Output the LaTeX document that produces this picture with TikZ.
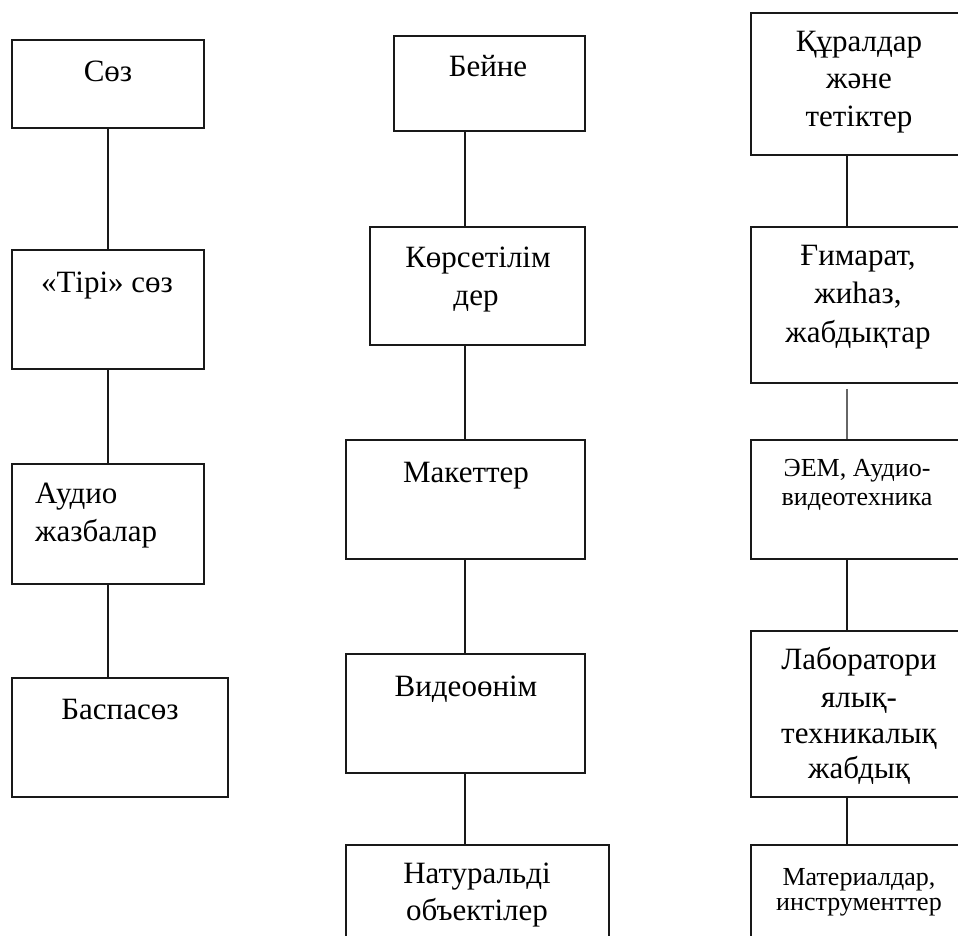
\documentclass[tikz,border=0pt]{standalone}
\usepackage{fontspec}
\setmainfont{Liberation Serif}
\begin{document}
\begin{tikzpicture}[x=1pt,y=-1pt,
  box/.style={draw=black!90, line width=1.6pt, rectangle, inner sep=0pt},
  lnk/.style={draw=black!90, line width=1.6pt},
  glnk/.style={draw=black!60, line width=2.4pt},
  big/.style={font=\fontsize{31}{37}\selectfont, inner sep=0pt, anchor=base},
  small/.style={font=\fontsize{26}{30}\selectfont, inner sep=0pt, anchor=base}]
\useasboundingbox (0,0) rectangle (958,936);
\clip (0,0) rectangle (958,936);
% column 1
\node[box, minimum width=192pt, minimum height=88pt]  (b11) at (108,84) {};
\node[box, minimum width=192pt, minimum height=119pt] (b12) at (108,309.5) {};
\node[box, minimum width=192pt, minimum height=120pt] (b13) at (108,524) {};
\node[box, minimum width=216pt, minimum height=119pt] (b14) at (120,737.5) {};
\draw[lnk] (b11.south) -- (b12.north);
\draw[lnk] (b12.south) -- (b13.north);
\draw[lnk] (b13.south) -- (b13.south |- b14.north);
\node[big] (t11) at (108,82) {Сөз};
\node[big] (t12) at (107,292) {«Тірі» сөз};
\node[big, anchor=base west] (t13a) at (35,503) {Аудио};
\node[big, anchor=base west] (t13b) at (35,541) {жазбалар};
\node[big] (t14) at (120,719) {Баспасөз};
% column 2
\coordinate (c2) at (465,0);
\node[box, minimum width=191pt, minimum height=95pt]  (b21) at (489.5,83.5) {};
\node[box, minimum width=215pt, minimum height=118pt] (b22) at (477.5,286) {};
\node[box, minimum width=239pt, minimum height=119pt] (b23) at (465.5,499.5) {};
\node[box, minimum width=239pt, minimum height=119pt] (b24) at (465.5,713.5) {};
\node[box, minimum width=263pt, minimum height=120pt] (b25) at (477.5,905) {};
\draw[lnk] (b21.south -| c2) -- (b22.north -| c2);
\draw[lnk] (b22.south -| c2) -- (b23.north -| c2);
\draw[lnk] (b23.south -| c2) -- (b24.north -| c2);
\draw[lnk] (b24.south -| c2) -- (b25.north -| c2);
\node[big] (t21) at (488,77) {Бейне};
\node[big] (t22a) at (478,267) {Көрсетілім};
\node[big] (t22b) at (476,305) {дер};
\node[big] (t23) at (466,482) {Макеттер};
\node[big] (t24) at (466,696) {Видеоөнім};
\node[big] (t25a) at (477,883) {Натуральді};
\node[big] (t25b) at (477,920) {объектілер};
% column 3
\coordinate (c3) at (847,0);
\node[box, minimum width=216pt, minimum height=142pt] (b31) at (859,84) {};
\node[box, minimum width=216pt, minimum height=156pt] (b32) at (859,305) {};
\node[box, minimum width=216pt, minimum height=119pt] (b33) at (859,499.5) {};
\node[box, minimum width=216pt, minimum height=166pt] (b34) at (859,714) {};
\node[box, minimum width=216pt, minimum height=120pt] (b35) at (859,905) {};
\draw[lnk] (b31.south -| c3) -- (b32.north -| c3);
\draw[glnk] ([yshift=-5pt]b32.south -| c3) -- (b33.north -| c3);
\draw[lnk] (b33.south -| c3) -- (b34.north -| c3);
\draw[lnk] (b34.south -| c3) -- (b35.north -| c3);
\node[big] (t31a) at (859,52) {Құралдар};
\node[big] (t31b) at (859,89) {және};
\node[big] (t31c) at (859,127) {тетіктер};
\node[big] (t32a) at (858,265) {Ғимарат,};
\node[big] (t32b) at (858,303) {жиһаз,};
\node[big] (t32c) at (858,342) {жабдықтар};
\node[small] (t33a) at (857,476) {ЭЕМ, Аудио-};
\node[small] (t33b) at (857,505) {видеотехника};
\node[big] (t34a) at (859,669) {Лаборатори};
\node[big] (t34b) at (859,707) {ялық-};
\node[big] (t34c) at (859,743) {техникалық};
\node[big] (t34d) at (859,778) {жабдық};
\node[small] (t35a) at (859,885) {Материалдар,};
\node[small] (t35b) at (859,910) {инструменттер};
\end{tikzpicture}
\end{document}
